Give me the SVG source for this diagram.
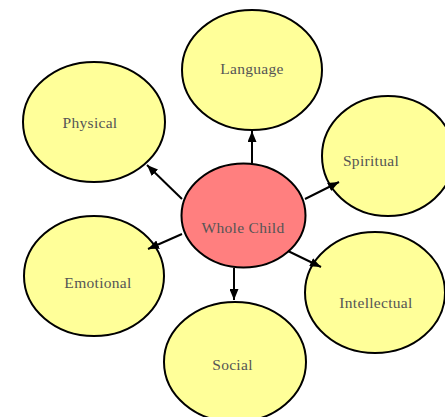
<svg xmlns="http://www.w3.org/2000/svg" width="445" height="417" viewBox="0 0 445 417">
<defs>
<style>
.n{fill:#ffff99;stroke:#000;stroke-width:2}
.c{fill:#ff7f7f;stroke:#000;stroke-width:2}
.t{font-family:"Liberation Serif","DejaVu Serif",serif;font-size:15.5px;letter-spacing:0.3px;fill:#555555;text-anchor:middle}
.e{stroke:#000;stroke-width:2;fill:none;marker-end:url(#ah)}
</style>
<marker id="ah" markerUnits="userSpaceOnUse" markerWidth="11" markerHeight="9" refX="11" refY="4.5" orient="auto">
<path d="M0,0 L11,4.5 L0,9 z" fill="#000"/>
</marker>
</defs>
<rect width="445" height="417" fill="#fff"/>
<g id="language"><ellipse class="n" cx="252" cy="70" rx="70" ry="60"/><text class="t" x="252" y="74">Language</text></g>
<g id="physical"><ellipse class="n" cx="94" cy="122" rx="71" ry="60"/><text class="t" x="90" y="128">Physical</text></g>
<g id="spiritual"><ellipse class="n" cx="388" cy="156" rx="66" ry="60"/><text class="t" x="371" y="166">Spiritual</text></g>
<g id="emotional"><ellipse class="n" cx="94" cy="276" rx="70" ry="60"/><text class="t" x="98" y="288">Emotional</text></g>
<g id="intellectual"><ellipse class="n" cx="375" cy="292.5" rx="70" ry="60.5"/><text class="t" x="376" y="308">Intellectual</text></g>
<g id="social"><ellipse class="n" cx="235" cy="362" rx="71" ry="60"/><text class="t" x="232.5" y="370">Social</text></g>
<g id="whole-child"><ellipse class="c" cx="243.5" cy="215.5" rx="62" ry="52"/><text class="t" x="243" y="233">Whole Child</text></g>
<g id="connectors">
<line class="e" x1="252" y1="164" x2="252" y2="131"/>
<line class="e" x1="182" y1="199" x2="147" y2="165"/>
<line class="e" x1="182" y1="234" x2="148" y2="249"/>
<line class="e" x1="305" y1="199" x2="339" y2="182"/>
<line class="e" x1="288" y1="251" x2="321" y2="267"/>
<line class="e" x1="234" y1="268" x2="234" y2="300"/>
</g>
</svg>
